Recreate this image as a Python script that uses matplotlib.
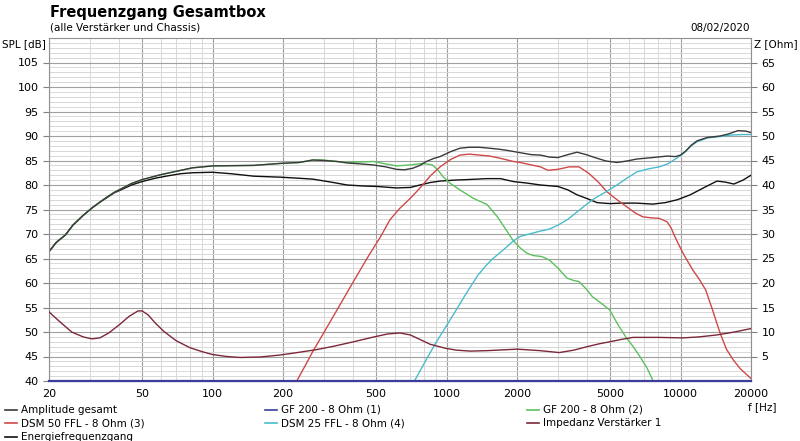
import numpy as np
import matplotlib
matplotlib.use("Agg")
import matplotlib.pyplot as plt
from matplotlib.ticker import FixedLocator, NullFormatter

# %% data
f_gesamt = [20, 21.5, 23.5, 25.3, 28, 30.5, 33, 35.3, 38, 41, 45, 50, 60, 70, 82, 100, 150,
            194, 235, 268, 300, 340, 376, 430, 485, 550, 610, 660, 715, 770, 820, 880, 938,
            1040, 1140, 1250, 1385, 1530, 1680, 1850, 2060, 2300, 2520, 2750, 2993, 3300,
            3610, 3950, 4300, 4800, 5350, 5900, 6500, 7600, 8750, 9500, 10000, 10500, 11100,
            11750, 13000, 14750, 16000, 17600, 19000, 20000]
spl_gesamt = [66.4, 68.3, 69.8, 71.8, 73.8, 75.3, 76.5, 77.5, 78.5, 79.3, 80.3, 81.1, 82.1,
              82.8, 83.5, 83.9, 84.0, 84.4, 84.6, 85.1, 85.0, 84.8, 84.5, 84.3, 84.1, 83.7,
              83.2, 83.1, 83.4, 84.0, 84.8, 85.4, 85.8, 86.8, 87.5, 87.7, 87.7, 87.5, 87.3,
              87.0, 86.6, 86.2, 86.1, 85.7, 85.6, 86.2, 86.7, 86.2, 85.6, 84.9, 84.6, 84.9,
              85.3, 85.6, 85.9, 85.8, 86.1, 86.9, 88.1, 89.0, 89.7, 90.0, 90.4, 91.1, 91.0,
              90.7]

f_energie = [20, 21.5, 23.5, 25.3, 28, 30.5, 33, 35.3, 38, 41, 45, 50, 57, 65, 73, 82, 100,
             120, 150, 194, 230, 268, 320, 376, 440, 505, 610, 700, 770, 850, 938, 1080, 1220,
             1490, 1700, 1930, 2200, 2520, 2993, 3300, 3610, 4000, 4400, 5000, 5500, 6500,
             7600, 8600, 9700, 11000, 12400, 14300, 15500, 16900, 18500, 20000]
spl_energie = [66.4, 68.3, 69.8, 71.8, 73.8, 75.3, 76.5, 77.4, 78.4, 79.1, 80.0, 80.7, 81.4,
               81.9, 82.3, 82.5, 82.6, 82.3, 81.8, 81.6, 81.4, 81.2, 80.6, 80.0, 79.8, 79.7,
               79.4, 79.5, 80.0, 80.5, 80.8, 81.0, 81.1, 81.3, 81.3, 80.7, 80.4, 80.0, 79.7,
               79.0, 78.0, 77.2, 76.4, 76.2, 76.3, 76.3, 76.1, 76.4, 77.0, 78.0, 79.3, 80.8,
               80.6, 80.2, 81.0, 82.0]

f_gf200_1 = [20, 20000]
spl_gf200_1 = [40, 40]

f_gf200_2 = [20, 21.5, 23.5, 25.3, 28, 30.5, 33, 35.3, 38, 41, 45, 50, 60, 70, 82, 100, 150,
             194, 235, 268, 297, 340, 376, 430, 485, 550, 610, 700, 790, 870, 920, 970, 1040,
             1140, 1300, 1490, 1650, 1800, 1930, 2060, 2200, 2350, 2550, 2750, 3000, 3270,
             3500, 3680, 3950, 4200, 4600, 4980, 5400, 5870, 6300, 6700, 7200, 7600, 8000]
spl_gf200_2 = [66.4, 68.3, 69.8, 71.8, 73.8, 75.3, 76.5, 77.5, 78.5, 79.3, 80.3, 81.1, 82.1,
               82.8, 83.5, 83.9, 84.0, 84.4, 84.6, 85.1, 85.1, 84.8, 84.6, 84.7, 84.8, 84.3,
               83.9, 84.1, 84.4, 84.1, 83.0, 81.6, 80.3, 79.0, 77.3, 76.0, 73.5, 70.8, 68.6,
               67.2, 66.1, 65.6, 65.4, 64.7, 63.0, 61.0, 60.5, 60.3, 58.8, 57.2, 55.8, 54.5,
               51.5, 48.8, 46.9, 45.0, 42.6, 40.2, 38.5]

f_dsm50 = [215, 229, 250, 268, 300, 350, 400, 461, 520, 573, 630, 690, 740, 790, 850, 938,
           1040, 1140, 1250, 1385, 1530, 1680, 1930, 2060, 2300, 2520, 2710, 2993, 3340, 3680,
           4050, 4450, 4850, 5350, 5870, 6400, 6900, 7500, 8100, 8750, 9100, 9450, 9900,
           10400, 11300, 12000, 12800, 13700, 14750, 15700, 16800, 18000, 20000]
spl_dsm50 = [37.5, 40.0, 43.3, 46.0, 50.0, 55.5, 60.3, 65.3, 69.3, 72.9, 75.2, 77.0, 78.5,
             80.0, 81.8, 83.7, 85.2, 86.1, 86.3, 86.1, 85.9, 85.5, 84.8, 84.6, 84.1, 83.7,
             83.0, 83.2, 83.7, 83.7, 82.4, 80.6, 78.6, 77.0, 75.6, 74.3, 73.5, 73.3, 73.2,
             72.5, 71.3, 69.5, 67.5, 65.5, 62.6, 60.8, 58.6, 54.5, 49.8, 46.5, 44.3, 42.5,
             40.5]

f_dsm25 = [700, 733, 800, 900, 985, 1100, 1200, 1362, 1470, 1570, 1742, 1900, 2060, 2300,
           2520, 2750, 2993, 3300, 3610, 3950, 4300, 4800, 5350, 5900, 6520, 7300, 8100,
           8800, 9500, 10000, 10500, 11100, 11750, 13000, 14750, 16500, 18500, 20000]
spl_dsm25 = [38.0, 40.2, 43.5, 47.8, 50.8, 54.5, 57.5, 61.6, 63.5, 64.9, 66.7, 68.3, 69.5,
             70.1, 70.6, 71.0, 71.8, 73.0, 74.5, 76.0, 77.3, 78.6, 80.0, 81.4, 82.7, 83.3,
             83.7, 84.3, 85.3, 86.0, 86.8, 88.0, 88.8, 89.6, 89.9, 90.2, 90.3, 90.3]

f_impedanz = [20, 22, 25, 28, 30.5, 33, 36, 40, 44, 48, 50, 53, 57, 62, 70, 80, 90, 100, 115,
              131, 160, 194, 230, 278, 330, 400, 480, 560, 632, 700, 768, 850, 985, 1100,
              1260, 1500, 2000, 2500, 3030, 3500, 3980, 4500, 4980, 5600, 6270, 8000, 10240,
              12000, 14300, 17000, 20000]
z_impedanz = [14.1, 12.3, 10.0, 9.0, 8.6, 8.8, 9.8, 11.5, 13.2, 14.3, 14.3, 13.5, 11.8, 10.1,
              8.2, 6.8, 6.0, 5.4, 5.0, 4.8, 4.9, 5.3, 5.8, 6.4, 7.1, 8.0, 8.9, 9.6, 9.8, 9.4,
              8.5, 7.5, 6.7, 6.3, 6.1, 6.2, 6.5, 6.2, 5.8, 6.3, 7.0, 7.6, 8.0, 8.5, 8.9, 8.9,
              8.8, 9.0, 9.4, 10.0, 10.7]

x_ticks = [20, 50, 100, 200, 500, 1000, 2000, 5000, 10000, 20000]

# %%
plt.rcParams["font.family"] = ["DejaVu Sans"]
fig = plt.figure(figsize=(8, 4.41), dpi=100)
ax = fig.add_axes([49 / 800, 1 - 381 / 441, 702 / 800, 343 / 441])

c_gesamt = "#3a3a3a"
c_gf1 = "#3c3c9c"
c_gf2 = "#5cc05c"
c_dsm50 = "#d04848"
c_dsm25 = "#48bccc"
c_imp = "#7c2838"
c_energie = "#101010"

ax.plot(f_energie, spl_energie, color=c_energie, lw=1.0)
ax.plot(f_gf200_2, spl_gf200_2, color=c_gf2, lw=1.0)
ax.plot(f_dsm50, spl_dsm50, color=c_dsm50, lw=1.0)
ax.plot(f_dsm25, spl_dsm25, color=c_dsm25, lw=1.0)
ax.plot(f_gesamt, spl_gesamt, color=c_gesamt, lw=1.0)
ax.plot(f_gf200_1, spl_gf200_1, color=c_gf1, lw=1.6, clip_on=False, zorder=5)

ax.set_xscale("log")
ax.set_xlim(20, 20000)
ax.set_ylim(40, 110)

minor_x = [m * 10 ** e for e in range(1, 5) for m in range(1, 10)
           if 20 <= m * 10 ** e <= 20000 and m * 10 ** e not in x_ticks]
ax.xaxis.set_major_locator(FixedLocator(x_ticks))
ax.xaxis.set_minor_locator(FixedLocator(minor_x))
ax.xaxis.set_minor_formatter(NullFormatter())
ax.set_xticklabels([str(t) for t in x_ticks])
ax.yaxis.set_major_locator(FixedLocator(list(range(40, 110, 5))))
ax.yaxis.set_minor_locator(FixedLocator(list(range(40, 111, 1))))

ax.grid(which="major", color="#a0a0a0", lw=0.8)
ax.grid(which="minor", color="#d8d8d8", lw=0.7)
ax.set_axisbelow(True)
ax.tick_params(axis="x", which="both", length=0, labelsize=8, pad=6)
ax.tick_params(axis="y", which="major", length=4, labelsize=8, color="#808080")
ax.tick_params(axis="y", which="minor", length=0)
for s in ["left", "right", "top", "bottom"]:
    ax.spines[s].set_color("#909090")
    ax.spines[s].set_linewidth(0.8)

ax2 = ax.twinx()
ax2.plot(f_impedanz, z_impedanz, color=c_imp, lw=1.0)
ax2.set_ylim(0, 70)
ax2.yaxis.set_major_locator(FixedLocator(list(range(5, 70, 5))))
ax2.tick_params(axis="y", length=4, labelsize=8, color="#808080")
for s in ["left", "right", "top", "bottom"]:
    ax2.spines[s].set_visible(False)

# texts
fig.text(50 / 800, 1 - 12 / 441, "Frequenzgang Gesamtbox", fontsize=10.5, fontweight="bold",
         va="center", ha="left")
fig.text(50 / 800, 1 - 28 / 441, "(alle Verstärker und Chassis)", fontsize=7.5,
         va="center", ha="left")
fig.text(750 / 800, 1 - 28 / 441, "08/02/2020", fontsize=7.5, va="center", ha="right")
fig.text(46 / 800, 1 - 44 / 441, "SPL [dB]", fontsize=7.5, va="center", ha="right")
fig.text(754 / 800, 1 - 44 / 441, "Z [Ohm]", fontsize=7.5, va="center", ha="left")
fig.text(762 / 800, 1 - 407 / 441, "f [Hz]", fontsize=7.5, va="center", ha="center")

# legend
legend = [
    ("Amplitude gesamt", c_gesamt, 5, 410),
    ("GF 200 - 8 Ohm (1)", c_gf1, 265, 410),
    ("GF 200 - 8 Ohm (2)", c_gf2, 527, 410),
    ("DSM 50 FFL - 8 Ohm (3)", c_dsm50, 5, 423),
    ("DSM 25 FFL - 8 Ohm (4)", c_dsm25, 265, 423),
    ("Impedanz Verstärker 1", c_imp, 527, 423),
    ("Energiefrequenzgang", c_energie, 5, 437),
]
for name, col, lx, ly in legend:
    yy = 1 - ly / 441
    fig.add_artist(plt.Line2D([lx / 800, (lx + 12) / 800], [yy, yy], color=col, lw=1.2))
    fig.text((lx + 16) / 800, yy, name, fontsize=7.5, va="center", ha="left")

fig.savefig("out.png", dpi=100)
